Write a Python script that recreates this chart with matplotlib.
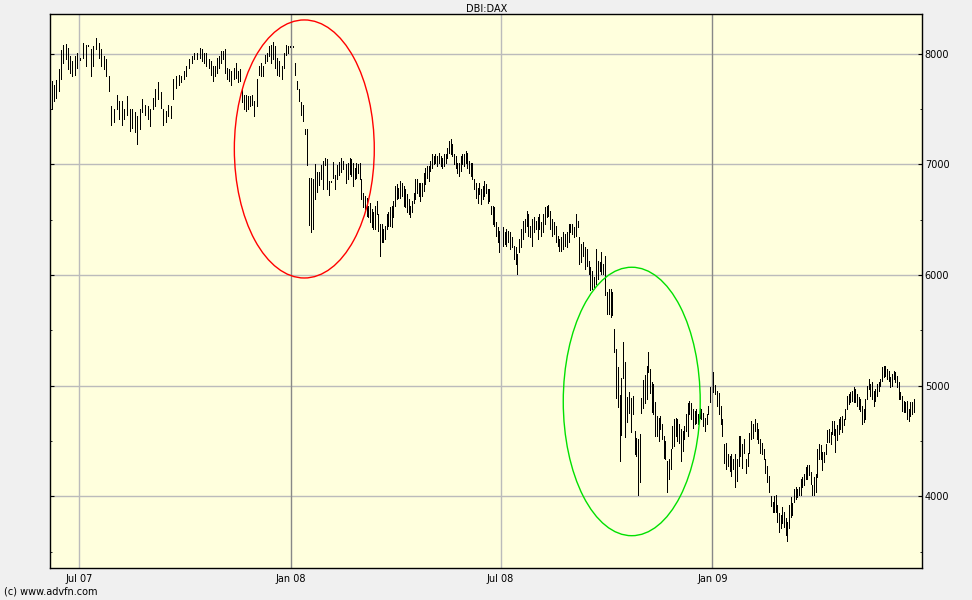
import numpy as np
import pandas as pd
import matplotlib
matplotlib.use('Agg')
import matplotlib.pyplot as plt
import matplotlib.dates as mdates
from matplotlib.patches import Ellipse

# === DAX daily-ish bars (high / low), per period ===
hi_a = [7750, 7720, 7765, 7860, 8030, 8080, 8090, 8050, 7980, 7930, 7980, 8010]
lo_a = [7500, 7570, 7600, 7660, 7770, 7920, 7950, 7860, 7830, 7800, 7810, 7870]

hi_b1 = [7960, 8100, 8080, 8075, 8040, 8070, 8140, 8100, 8040, 7980,
         7950, 7800, 7530, 7500, 7630, 7570, 7570, 7500, 7620, 7500,
         7500, 7470, 7440, 7500, 7590, 7540, 7530, 7500, 7600, 7680,
         7740, 7650, 7500, 7480, 7540, 7530, 7770, 7800, 7810, 7800,
         7840, 7890, 7950, 7980, 8010, 8010]
lo_b1 = [7945, 7960, 7890, 8065, 7800, 7890, 8040, 7960, 7890, 7860,
         7800, 7660, 7360, 7380, 7500, 7410, 7360, 7410, 7450, 7300,
         7330, 7290, 7180, 7320, 7470, 7450, 7410, 7350, 7500, 7530,
         7590, 7510, 7360, 7380, 7440, 7420, 7590, 7690, 7720, 7740,
         7770, 7800, 7870, 7920, 7950, 7950]

hi_b2 = [8050, 8040, 8010, 8010, 7950, 7930, 7890, 7890, 7960, 7980,
         8020, 8020, 8040, 7870, 7860, 7840, 7870, 7920, 7840, 7860,
         7680, 7630, 7630, 7620, 7620, 7630, 7570, 7770, 7890, 7920,
         7890, 7990, 8010, 8070, 8080, 8110, 8070, 7960, 7930, 7890,
         8010, 8080, 8070, 8065]
lo_b2 = [7960, 7930, 7920, 7890, 7870, 7810, 7750, 7800, 7830, 7870,
         7920, 7950, 7830, 7770, 7750, 7720, 7770, 7780, 7740, 7750,
         7560, 7500, 7480, 7500, 7530, 7540, 7440, 7530, 7810, 7800,
         7800, 7920, 7930, 7980, 7920, 7950, 7870, 7810, 7800, 7770,
         7870, 7990, 8010, 8058]

hi_c1 = [8070, 7920, 7750, 7680, 7560, 7540, 7320, 7320, 6880, 6880,
         6870, 7000, 6930, 6930, 6990, 7030, 7060, 7050, 6850, 6850,
         7020, 6900, 6990, 7020, 7060, 7030]
lo_c1 = [8060, 7810, 7680, 7570, 7450, 7390, 7270, 6990, 6450, 6390,
         6420, 6690, 6750, 6810, 6870, 6780, 6990, 6780, 6720, 6840,
         6880, 6780, 6870, 6900, 6930, 6960]

hi_c2 = [7000, 7015, 7060, 7045, 7015, 6970, 7015, 7000, 7015, 6865,
         6745, 6715, 6700, 6625, 6655, 6595, 6565, 6625, 6670, 6550,
         6460, 6460, 6415, 6445, 6550, 6565, 6610, 6625, 6670, 6805,
         6820, 6790, 6850, 6835, 6805, 6775, 6730, 6685, 6625, 6670,
         6745, 6865, 6865, 6835, 6835, 6835, 6925, 6970, 6985, 6985,
         7030, 7090, 7075, 7090, 7075, 7105, 7075, 7060, 7090, 7090,
         7150, 7210, 7230, 7180, 7090, 7075, 7015, 7015, 7075, 7090,
         7090, 7120, 7105, 7030, 7015, 7015, 6865, 6835, 6790, 6835,
         6775, 6805, 6850, 6820, 6775, 6775, 6625,
         6625, 6610, 6475, 6430, 6400]
lo_c2 = [6835, 6865, 6910, 6895, 6805, 6865, 6880, 6925, 6865, 6685,
         6610, 6595, 6535, 6520, 6475, 6430, 6415, 6415, 6550, 6400,
         6175, 6295, 6295, 6325, 6415, 6445, 6445, 6430, 6520, 6625,
         6685, 6700, 6700, 6715, 6625, 6610, 6565, 6550, 6520, 6565,
         6655, 6685, 6745, 6715, 6670, 6715, 6760, 6820, 6880, 6850,
         6940, 6970, 7000, 7015, 6985, 7015, 6985, 6970, 6985, 7015,
         7060, 7105, 7090, 7075, 7000, 6970, 6925, 6895, 6940, 7000,
         6985, 7015, 6970, 6925, 6895, 6865, 6775, 6700, 6655, 6730,
         6640, 6685, 6715, 6745, 6655, 6670, 6550,
         6460, 6445, 6355, 6295, 6205]

hi_d1 = [6430, 6385, 6415, 6400, 6385, 6340, 6265, 6250, 6190, 6325,
         6415, 6490, 6505, 6580, 6550, 6445, 6505, 6520, 6490, 6520,
         6550, 6475, 6550, 6610, 6625, 6630, 6580, 6505, 6475, 6445,
         6355, 6325, 6340, 6385, 6370, 6385, 6460, 6460, 6460, 6430,
         6550, 6490, 6340, 6280, 6295, 6250, 6235, 6130, 6070, 6040,
         5980, 6235, 6130, 6115, 6205, 6100, 6175, 5845, 5875, 5875,
         5845, 5515, 5335, 5170, 4915, 5065, 5395, 5215, 4900, 4945,
         4885]
lo_d1 = [6265, 6280, 6265, 6295, 6235, 6250, 6145, 6100, 6010, 6205,
         6250, 6325, 6385, 6445, 6355, 6340, 6265, 6385, 6415, 6325,
         6415, 6355, 6385, 6460, 6520, 6535, 6415, 6355, 6370, 6295,
         6265, 6220, 6220, 6235, 6265, 6250, 6295, 6385, 6370, 6340,
         6355, 6430, 6100, 6115, 6175, 6055, 6085, 6010, 5860, 5875,
         5890, 5920, 5965, 6040, 6010, 6010, 5815, 5650, 5650, 5620,
         5635, 5305, 4885, 4810, 4315, 4555, 5065, 4540, 4675, 4750,
         4585]

hi_d2 = [4905, 4590, 4530, 4515, 4560, 4890, 5055, 5100, 5175, 5305,
         5150, 5030, 5015, 4850, 4730, 4710, 4730, 4650, 4545, 4500,
         4320, 4335, 4425, 4635, 4695, 4710, 4695, 4650, 4605, 4590,
         4635, 4740, 4845, 4860, 4845, 4785, 4770, 4785, 4740, 4800,
         4785, 4755, 4710, 4740, 4815, 4990]
lo_d2 = [4740, 4380, 4365, 4015, 4125, 4755, 4800, 4845, 4875, 5125,
         4935, 4760, 4740, 4545, 4545, 4500, 4605, 4515, 4350, 4335,
         4040, 4155, 4245, 4440, 4455, 4545, 4500, 4485, 4320, 4410,
         4515, 4590, 4545, 4740, 4695, 4620, 4650, 4665, 4650, 4710,
         4695, 4635, 4590, 4650, 4740, 4850]

hi_e1 = [5120, 5010, 4950, 4935, 4815, 4695, 4470, 4485, 4380, 4365,
         4380, 4335, 4380, 4335, 4545, 4545, 4470, 4515, 4335, 4395,
         4575, 4680, 4650, 4695, 4665, 4605, 4515, 4485, 4425, 4335,
         4275, 4185, 4005, 3945, 4005]
lo_e1 = [4940, 4920, 4820, 4740, 4650, 4545, 4305, 4245, 4275, 4230,
         4185, 4245, 4080, 4140, 4275, 4365, 4260, 4395, 4215, 4275,
         4395, 4515, 4530, 4590, 4515, 4485, 4395, 4380, 4335, 4215,
         4125, 4035, 3915, 3855, 3855]

hi_e2 = [4010, 3920, 3845, 3830, 3905, 3860, 3800, 3770, 3920, 3995,
         3935, 4070, 4085, 4070, 4085, 4160, 4175, 4205, 4265, 4280,
         4280, 4220, 4100, 4175, 4205, 4430, 4475, 4460, 4400, 4400,
         4475, 4595, 4610, 4580, 4685, 4685, 4610, 4640, 4700, 4715,
         4730, 4700, 4790, 4910, 4925, 4940, 4955, 4985, 4970, 4925,
         4895, 4880, 4820, 4790, 4880, 5000, 5060, 5015, 5030, 4955,
         4970, 5015, 5030, 5060, 5165, 5180, 5180, 5150, 5135, 5075,
         5105, 5135, 5120, 5090, 5030, 4940, 4910, 4865, 4850, 4865,
         4790, 4850, 4850, 4880]
lo_e2 = [3860, 3770, 3680, 3710, 3755, 3725, 3650, 3600, 3710, 3815,
         3830, 3950, 3980, 3995, 4010, 4010, 4085, 4100, 4160, 4160,
         4190, 4115, 4010, 4010, 4040, 4175, 4340, 4340, 4235, 4310,
         4385, 4490, 4490, 4475, 4565, 4550, 4400, 4505, 4565, 4610,
         4580, 4640, 4700, 4790, 4835, 4850, 4865, 4850, 4850, 4820,
         4790, 4775, 4655, 4670, 4700, 4880, 4970, 4910, 4880, 4820,
         4865, 4910, 4955, 5000, 5045, 5075, 5090, 5060, 5045, 4985,
         5000, 5060, 5030, 4985, 4880, 4880, 4775, 4760, 4760, 4700,
         4685, 4730, 4745, 4760]

# periods the bars above fall in (first bar date, last bar date)
periods = [
    ('2007-06-07', '2007-06-29', hi_a, lo_a),
    ('2007-07-02', '2007-10-11', hi_b1, lo_b1),
    ('2007-10-14', '2007-12-31', hi_b2, lo_b2),
    ('2008-01-03', '2008-02-15', hi_c1, lo_c1),
    ('2008-02-18', '2008-06-30', hi_c2, lo_c2),
    ('2008-07-03', '2008-10-22', hi_d1, lo_d1),
    ('2008-10-24', '2008-12-30', hi_d2, lo_d2),
    ('2009-01-02', '2009-02-24', hi_e1, lo_e1),
    ('2009-02-25', '2009-06-25', hi_e2, lo_e2),
]

tick_dates = ['2007-07-01', '2008-01-01', '2008-07-01', '2009-01-01']
tick_labels = ['Jul 07', 'Jan 08', 'Jul 08', 'Jan 09']
price_ticks = [4000, 5000, 6000, 7000, 8000]

# highlighted zones: (centre date, width in days, centre price, height)
red_zone = ('2008-01-12 12:00', 121.6, 7139, 2332)
green_zone = ('2008-10-23', 119.0, 4857, 2426)

# === build the series ===
dates, highs, lows = [], [], []
for start, end, h, l in periods:
    dates.extend(pd.date_range(start, end, periods=len(h)))
    highs.extend(h)
    lows.extend(l)

# === figure ===
plt.rcParams['font.family'] = ['DejaVu Sans']
fig = plt.figure(figsize=(9.72, 6.0), dpi=100, facecolor='#F0F0F0')
ax = fig.add_axes([50.3 / 972, 32 / 600, 871.7 / 972, 553.7 / 600])
ax.set_facecolor('#FFFFDD')

ax.vlines(dates, lows, highs, color='black', lw=0.6, antialiased=False, zorder=3)

for (c, w, p, hgt), col in [(red_zone, 'red'), (green_zone, '#00E000')]:
    ax.add_patch(Ellipse((mdates.date2num(pd.Timestamp(c)), p), w, hgt,
                         fill=False, edgecolor=col, lw=1.0, zorder=4))

ax.set_xlim(pd.Timestamp('2007-06-05 19:00'), pd.Timestamp('2009-07-02 05:00'))
ax.set_ylim(3352, 8356)

# grid
for p in price_ticks:
    ax.axhline(p, color='#BBBBBB', lw=1.0, zorder=1)
for d, lab in zip(tick_dates, tick_labels):
    col = '#888888' if lab.startswith('Jan') else '#BBBBBB'
    ax.axvline(pd.Timestamp(d), color=col, lw=1.0, zorder=1)

ax.set_xticks([pd.Timestamp(d) for d in tick_dates])
ax.set_xticklabels(tick_labels, fontsize=7)
ax.tick_params(axis='x', length=0, pad=4)

ax.set_yticks(price_ticks)
ax.set_yticks([3500, 4500, 5500, 6500, 7500], minor=True)
ax.tick_params(axis='y', which='both', direction='in', left=True, right=True,
               labelleft=False, labelright=True, labelsize=7, pad=2)
ax.tick_params(axis='y', which='major', length=3)
ax.tick_params(axis='y', which='minor', length=1.5)

for s in ax.spines.values():
    s.set_linewidth(1.0)
    s.set_color('black')

ax.set_title('DBI:DAX', fontsize=7, pad=2)
fig.text(4 / 972, 1 - 592 / 600, '(c) www.advfn.com', fontsize=7, va='center')

plt.savefig('out.png', dpi=100, facecolor=fig.get_facecolor())
